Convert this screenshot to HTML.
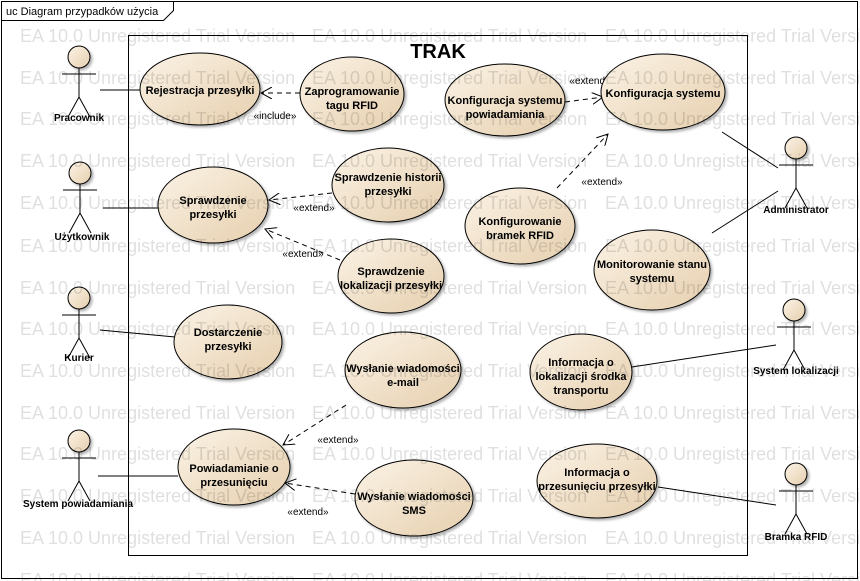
<!DOCTYPE html>
<html><head><meta charset="utf-8"><style>
html,body{margin:0;padding:0;background:#fff}
svg{display:block}
text{font-family:"Liberation Sans",Arial,sans-serif}
.uc{font-size:11px;font-weight:bold;fill:#000;text-anchor:middle}
.lb{font-size:10px;fill:#000;text-anchor:middle}
.wm{font-size:18px;fill:#000;opacity:0.12}
</style></head><body>
<svg width="860" height="581" viewBox="0 0 860 581" xmlns="http://www.w3.org/2000/svg">
<defs>
<linearGradient id="g" x1="0" y1="0" x2="1" y2="1">
<stop offset="0" stop-color="#fbf3e6"/><stop offset="1" stop-color="#e6cfae"/>
</linearGradient>
<filter id="sh" x="-20%" y="-20%" width="150%" height="150%"><feDropShadow dx="2" dy="2" stdDeviation="1.2" flood-color="#000" flood-opacity="0.3"/></filter>
<marker id="ah" viewBox="0 0 12 12" refX="11" refY="6" markerWidth="12" markerHeight="12" markerUnits="userSpaceOnUse" orient="auto"><path d="M0,0 L11,6 L0,12" fill="none" stroke="#000" stroke-width="1"/></marker>
</defs>
<rect x="1.5" y="1.5" width="856" height="577" fill="#fff" stroke="#000"/>
<path d="M1.5,20.5 H163.5 L173.5,10.5 V1.5" fill="none" stroke="#000"/>
<text x="6" y="15" style="font-size:11px">uc Diagram przypadków użycia</text>
<rect x="128.5" y="35.5" width="619" height="520" fill="none" stroke="#000"/>
<text x="438" y="58" style="font-size:20px;font-weight:bold" text-anchor="middle">TRAK</text>

<g stroke="#000" stroke-width="1" fill="none">
<line x1="100" y1="90" x2="140" y2="90"/>
<line x1="103" y1="208" x2="158" y2="208"/>
<line x1="100" y1="330" x2="175" y2="337"/>
<line x1="98" y1="476" x2="178" y2="476"/>
<line x1="722" y1="132" x2="778" y2="168"/>
<line x1="712" y1="233" x2="778" y2="191"/>
<line x1="632" y1="367" x2="776" y2="345"/>
<line x1="658" y1="487" x2="776" y2="505"/>
</g>
<g stroke="#000" stroke-width="1" fill="none" stroke-dasharray="5,4" marker-end="url(#ah)">
<line x1="300" y1="93" x2="261" y2="93"/>
<line x1="565" y1="102" x2="603" y2="97"/>
<line x1="557" y1="188" x2="608" y2="134"/>
<line x1="332" y1="193" x2="269" y2="200"/>
<line x1="340" y1="260" x2="265" y2="229"/>
<line x1="346" y1="405" x2="283" y2="445"/>
<line x1="355" y1="494" x2="285" y2="483"/>
</g>
<g class="lb">
<text x="275" y="119">«include»</text>
<text x="590" y="84">«extend»</text>
<text x="602" y="185">«extend»</text>
<text x="314" y="211">«extend»</text>
<text x="303" y="257">«extend»</text>
<text x="338" y="443">«extend»</text>
<text x="308" y="515">«extend»</text>
</g>

<g fill="url(#g)" stroke="#000" stroke-width="1" filter="url(#sh)">
<ellipse cx="200" cy="89" rx="60" ry="36"/>
<ellipse cx="352" cy="94" rx="52" ry="37"/>
<ellipse cx="505" cy="100" rx="60" ry="36"/>
<ellipse cx="663" cy="92" rx="62" ry="38"/>
<ellipse cx="213" cy="205" rx="55" ry="38"/>
<ellipse cx="388" cy="185" rx="56" ry="37"/>
<ellipse cx="520" cy="226" rx="55" ry="38"/>
<ellipse cx="391" cy="276" rx="53" ry="37"/>
<ellipse cx="652" cy="270" rx="58" ry="40"/>
<ellipse cx="228" cy="342" rx="54" ry="37"/>
<ellipse cx="403" cy="370" rx="58" ry="38"/>
<ellipse cx="581" cy="372" rx="51" ry="38"/>
<ellipse cx="234" cy="467" rx="56" ry="38"/>
<ellipse cx="414" cy="498" rx="59" ry="38"/>
<ellipse cx="597" cy="481" rx="60" ry="37"/>
</g>
<g class="uc">
<text x="200" y="94">Rejestracja przesyłki</text>
<text x="352" y="95">Zaprogramowanie</text><text x="352" y="109">tagu RFID</text>
<text x="505" y="104">Konfiguracja systemu</text><text x="505" y="118">powiadamiania</text>
<text x="663" y="97">Konfiguracja systemu</text>
<text x="213" y="204">Sprawdzenie</text><text x="213" y="218">przesyłki</text>
<text x="388" y="181">Sprawdzenie historii</text><text x="388" y="195">przesyłki</text>
<text x="520" y="225">Konfigurowanie</text><text x="520" y="239">bramek RFID</text>
<text x="391" y="275">Sprawdzenie</text><text x="391" y="289">lokalizacji przesyłki</text>
<text x="652" y="268">Monitorowanie stanu</text><text x="652" y="282">systemu</text>
<text x="228" y="336">Dostarczenie</text><text x="228" y="350">przesyłki</text>
<text x="403" y="372">Wysłanie wiadomości</text><text x="403" y="386">e-mail</text>
<text x="581" y="366">Informacja o</text><text x="581" y="380">lokalizacji środka</text><text x="581" y="394">transportu</text>
<text x="234" y="472">Powiadamianie o</text><text x="234" y="486">przesunięciu</text>
<text x="414" y="500">Wysłanie wiadomości</text><text x="414" y="514">SMS</text>
<text x="597" y="476">Informacja o</text><text x="597" y="490">przesunięciu przesyłki</text>
</g>

<g stroke="#000" stroke-width="1" fill="none">
<g transform="translate(79,57)"><circle r="11" fill="url(#g)" filter="url(#sh)"/><path d="M0,11V40M-17,17H17M0,40L-11,60M0,40L11,60"/></g>
<g transform="translate(80,173)"><circle r="11" fill="url(#g)" filter="url(#sh)"/><path d="M0,11V40M-17,17H17M0,40L-11,60M0,40L11,60"/></g>
<g transform="translate(79,298)"><circle r="11" fill="url(#g)" filter="url(#sh)"/><path d="M0,11V40M-17,17H17M0,40L-11,60M0,40L11,60"/></g>
<g transform="translate(79,441)"><circle r="11" fill="url(#g)" filter="url(#sh)"/><path d="M0,11V40M-17,17H17M0,40L-11,60M0,40L11,60"/></g>
<g transform="translate(796,148)"><circle r="11" fill="url(#g)" filter="url(#sh)"/><path d="M0,11V40M-17,17H17M0,40L-11,60M0,40L11,60"/></g>
<g transform="translate(794,310)"><circle r="11" fill="url(#g)" filter="url(#sh)"/><path d="M0,11V40M-17,17H17M0,40L-11,60M0,40L11,60"/></g>
<g transform="translate(796,474)"><circle r="11" fill="url(#g)" filter="url(#sh)"/><path d="M0,11V40M-17,17H17M0,40L-11,60M0,40L11,60"/></g>
</g>
<g class="uc" style="font-size:10px">
<text x="79" y="121">Pracownik</text>
<text x="82" y="240">Użytkownik</text>
<text x="79" y="361">Kurier</text>
<text x="78" y="507">System powiadamiania</text>
<text x="796" y="213">Administrator</text>
<text x="796" y="374">System lokalizacji</text>
<text x="796" y="540">Bramka RFID</text>
</g>

<g class="wm">
<text x="20" y="42">EA 10.0 Unregistered Trial Version</text><text x="312" y="42">EA 10.0 Unregistered Trial Version</text><text x="605" y="42">EA 10.0 Unregistered Trial Version</text>
<text x="20" y="84">EA 10.0 Unregistered Trial Version</text><text x="312" y="84">EA 10.0 Unregistered Trial Version</text><text x="605" y="84">EA 10.0 Unregistered Trial Version</text>
<text x="20" y="125">EA 10.0 Unregistered Trial Version</text><text x="312" y="125">EA 10.0 Unregistered Trial Version</text><text x="605" y="125">EA 10.0 Unregistered Trial Version</text>
<text x="20" y="167">EA 10.0 Unregistered Trial Version</text><text x="312" y="167">EA 10.0 Unregistered Trial Version</text><text x="605" y="167">EA 10.0 Unregistered Trial Version</text>
<text x="20" y="209">EA 10.0 Unregistered Trial Version</text><text x="312" y="209">EA 10.0 Unregistered Trial Version</text><text x="605" y="209">EA 10.0 Unregistered Trial Version</text>
<text x="20" y="252">EA 10.0 Unregistered Trial Version</text><text x="312" y="252">EA 10.0 Unregistered Trial Version</text><text x="605" y="252">EA 10.0 Unregistered Trial Version</text>
<text x="20" y="294">EA 10.0 Unregistered Trial Version</text><text x="312" y="294">EA 10.0 Unregistered Trial Version</text><text x="605" y="294">EA 10.0 Unregistered Trial Version</text>
<text x="20" y="335">EA 10.0 Unregistered Trial Version</text><text x="312" y="335">EA 10.0 Unregistered Trial Version</text><text x="605" y="335">EA 10.0 Unregistered Trial Version</text>
<text x="20" y="377">EA 10.0 Unregistered Trial Version</text><text x="312" y="377">EA 10.0 Unregistered Trial Version</text><text x="605" y="377">EA 10.0 Unregistered Trial Version</text>
<text x="20" y="419">EA 10.0 Unregistered Trial Version</text><text x="312" y="419">EA 10.0 Unregistered Trial Version</text><text x="605" y="419">EA 10.0 Unregistered Trial Version</text>
<text x="20" y="460">EA 10.0 Unregistered Trial Version</text><text x="312" y="460">EA 10.0 Unregistered Trial Version</text><text x="605" y="460">EA 10.0 Unregistered Trial Version</text>
<text x="20" y="502">EA 10.0 Unregistered Trial Version</text><text x="312" y="502">EA 10.0 Unregistered Trial Version</text><text x="605" y="502">EA 10.0 Unregistered Trial Version</text>
<text x="20" y="544">EA 10.0 Unregistered Trial Version</text><text x="312" y="544">EA 10.0 Unregistered Trial Version</text><text x="605" y="544">EA 10.0 Unregistered Trial Version</text>
<text x="20" y="586">EA 10.0 Unregistered Trial Version</text><text x="312" y="586">EA 10.0 Unregistered Trial Version</text><text x="605" y="586">EA 10.0 Unregistered Trial Version</text>
</g>
</svg>
</body></html>
